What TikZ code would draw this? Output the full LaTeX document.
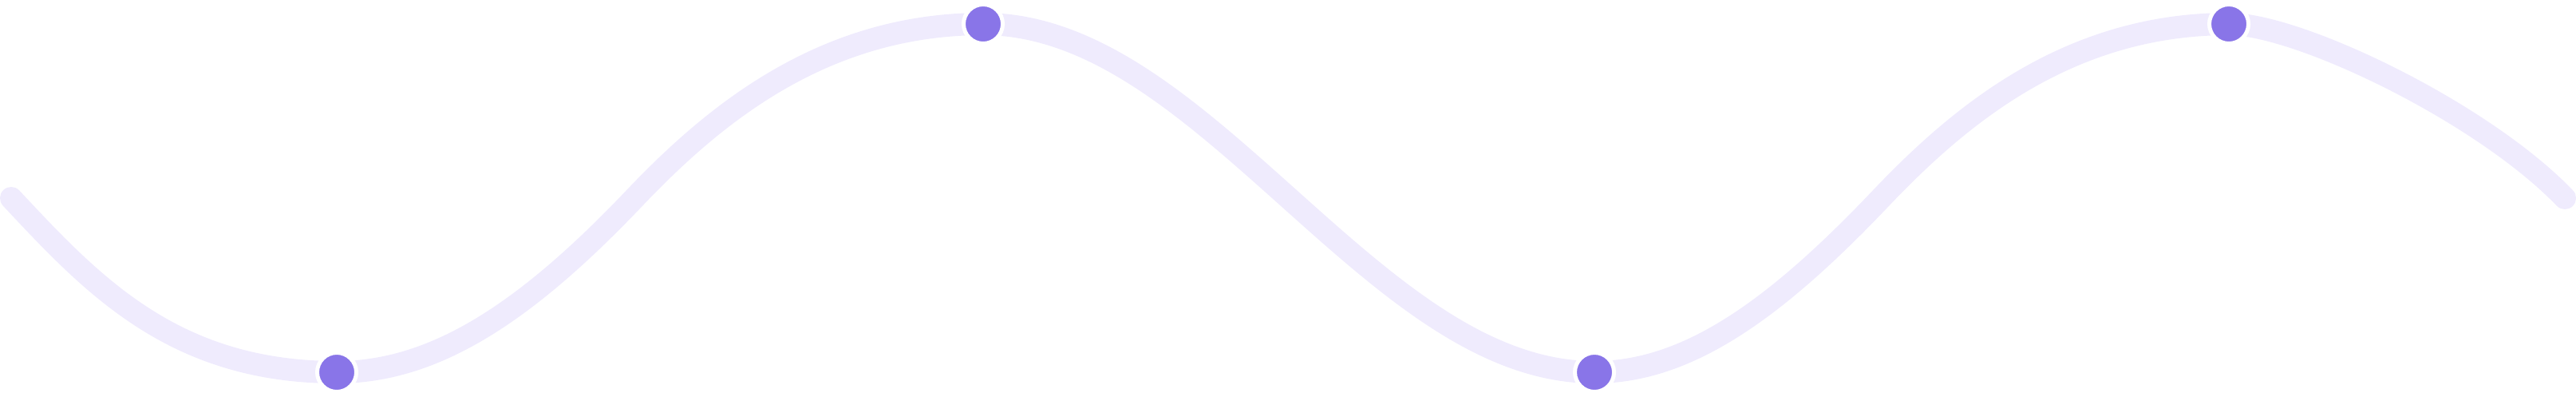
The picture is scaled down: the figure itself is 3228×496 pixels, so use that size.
\documentclass[tikz,border=0pt]{standalone}
\usepackage{xcolor}
\definecolor{wavelila}{RGB}{239, 235, 253}
\definecolor{dotpurple}{RGB}{137, 117, 232}
\usepackage{tikz}
\usetikzlibrary{backgrounds}

\begin{document}
\begin{tikzpicture}[x=0.01cm, y=-0.01cm,
        dotnode/.style={circle, fill=dotpurple, draw=white, line width=0.05cm, minimum size=0.49cm, inner sep=0pt},
        wave/.style={draw=wavelila, line width=0.28cm, line cap=round}]

    \useasboundingbox (0,0) rectangle (3228,496);

    % Puntos de la onda
    \node [dotnode] (dot1) at (422,466) {};
    \node [dotnode] (dot2) at (1232,30) {};
    \node [dotnode] (dot3) at (1998,466) {};
    \node [dotnode] (dot4) at (2793,30) {};
    \coordinate (start) at (14,248);
    \coordinate (cross1) at (795,248);
    \coordinate (cross2) at (1615,248);
    \coordinate (cross3) at (2357,248);
    \coordinate (end) at (3214,248);

    % Onda por debajo de los puntos
    \begin{scope}[on background layer]
        \path [wave] (start) .. controls (116,357) and (218,466) .. (dot1.center)
            .. controls (542,466) and (655,395) .. (cross1)
            .. controls (895,143) and (1032,30) .. (dot2.center)
            cos (cross2) sin (dot3.center)
            .. controls (2113,466) and (2222,390) .. (cross3)
            .. controls (2457,143) and (2593,30) .. (dot4.center)
            .. controls (2880,30) and (3110,140) .. (end);
    \end{scope}
\end{tikzpicture}
\end{document}
